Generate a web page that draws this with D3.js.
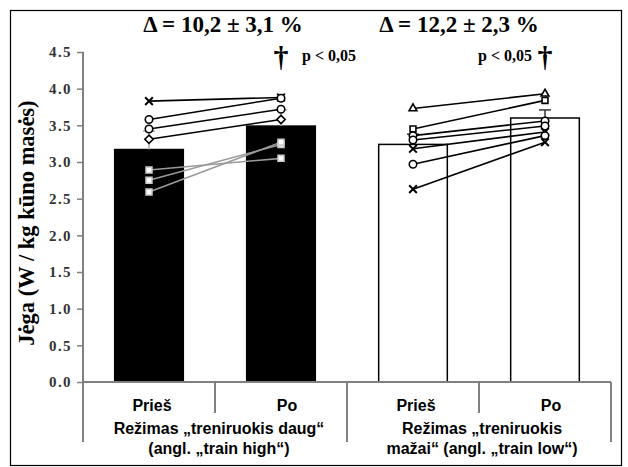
<!DOCTYPE html>
<html>
<head>
<meta charset="utf-8">
<script src="https://cdn.jsdelivr.net/npm/d3@7"></script>
<style>
  html, body { margin: 0; padding: 0; background: #fff; }
  svg { display: block; }
  .tick text { font-family: "Liberation Serif", "Times New Roman", serif; font-weight: bold; }
</style>
</head>
<body>
<svg id="chart" width="628" height="467"></svg>
<script>
// bars: Prieš / Po for each regime
var categories = ["Prieš", "Po", "Prieš", "Po"];
var groupLabels = [
  ["Režimas „treniruokis daug“", "(angl. „train high“)"],
  ["Režimas „treniruokis", "mažai“ (angl. „train low“)"]
];
var barMeans = [3.17, 3.49, 3.24, 3.60];
var barErrors = [0.25, 0.22, 0.14, 0.11];
var deltaLabels = ["Δ = 10,2 ± 3,1 %", "Δ = 12,2 ± 2,3 %"];
var pLabel = "p < 0,05";

// individual subjects (before -> after)
var highBefore = [3.83, 3.58, 3.45, 3.31, 2.89, 2.75, 2.59];
var highAfter  = [3.88, 3.87, 3.72, 3.58, 3.05, 3.24, 3.27];
var lowBefore  = [3.73, 3.45, 3.36, 3.30, 3.18, 2.97, 2.63];
var lowAfter   = [3.93, 3.84, 3.56, 3.49, 3.41, 3.36, 3.27];

var yTicks = [0, 0.5, 1, 1.5, 2, 2.5, 3, 3.5, 4, 4.5];

// styling, kept apart from the values
var highMarks = ["times", "circle", "circle", "diamond", "square", "square", "square"];
var highColors = ["#000", "#000", "#000", "#000", "#9a9a9a", "#9a9a9a", "#9a9a9a"];
var lowMarks = ["triangle", "square", "circle", "circle", "times", "circle", "times"];

var svg = d3.select("#chart");
var serif = "'Liberation Serif', 'Times New Roman', serif";
var sans = "'Liberation Sans', Arial, sans-serif";

var x = d3.scaleBand().domain(d3.range(categories.length)).range([83, 611]).paddingInner(0.48).paddingOuter(0.24);
var y = d3.scaleLinear().domain([0, 4.5]).range([382, 52]);
var step = x.step();
var left = 83, right = 611;

// outer frame
svg.append("rect")
  .attr("x", 10.5).attr("y", 10.5).attr("width", 611).attr("height", 455)
  .attr("fill", "none").attr("stroke", "#000").attr("stroke-width", 1.2);

// bars
svg.append("g").selectAll("rect")
  .data(barMeans)
  .enter().append("rect")
  .attr("x", function (d, i) { return x(i); })
  .attr("y", function (d) { return y(d); })
  .attr("width", x.bandwidth())
  .attr("height", function (d) { return y(0) - y(d); })
  .attr("fill", function (d, i) { return i < 2 ? "#000" : "#fff"; })
  .attr("stroke", "#000")
  .attr("stroke-width", 1.5);

// error bars
var err = svg.append("g").attr("stroke-width", 1.5);
barMeans.forEach(function (m, i) {
  var cx = x(i) + x.bandwidth() / 2;
  var col = i < 2 ? "#aaa" : "#333";
  err.append("line").attr("x1", cx).attr("x2", cx).attr("y1", y(m)).attr("y2", y(m + barErrors[i])).attr("stroke", col);
  err.append("line").attr("x1", cx - 6).attr("x2", cx + 6).attr("y1", y(m + barErrors[i])).attr("y2", y(m + barErrors[i])).attr("stroke", col);
});

// subject lines + markers
var symbolTypes = {
  times: d3.symbolTimes, circle: d3.symbolCircle, diamond: d3.symbolDiamond2,
  square: d3.symbolSquare2, triangle: d3.symbolTriangle2
};

function drawSubjects(before, after, i0, marks, colors) {
  var g = svg.append("g");
  var x0 = x(i0) + x.bandwidth() / 2;
  var x1 = x(i0 + 1) + x.bandwidth() / 2;
  before.forEach(function (b, k) {
    var col = colors ? colors[k] : "#000";
    g.append("line")
      .attr("x1", x0).attr("y1", y(b)).attr("x2", x1).attr("y2", y(after[k]))
      .attr("stroke", col).attr("stroke-width", 1.6);
  });
  before.forEach(function (b, k) {
    var col = colors ? colors[k] : "#000";
    var sym = d3.symbol().type(symbolTypes[marks[k]]).size(marks[k] === "times" ? 40 : 44);
    [[x0, b], [x1, after[k]]].forEach(function (p) {
      g.append("path")
        .attr("d", sym())
        .attr("transform", "translate(" + p[0] + "," + y(p[1]) + ")")
        .attr("fill", "#fff")
        .attr("stroke", col === "#000" ? "#000" : "#ccc")
        .attr("stroke-width", marks[k] === "times" ? 2 : 1.6);
    });
  });
}
drawSubjects(highBefore, highAfter, 0, highMarks, highColors);
drawSubjects(lowBefore, lowAfter, 2, lowMarks, null);

// y axis
var yAxis = svg.append("g")
  .attr("transform", "translate(" + left + ",0)")
  .call(d3.axisLeft(y).tickValues(yTicks).tickFormat(d3.format(".1f")).tickSize(6).tickPadding(5));
yAxis.select(".domain").attr("stroke", "#808080").attr("stroke-width", 2).attr("d", "M0," + y(4.5) + "V442");
yAxis.selectAll(".tick line").attr("stroke", "#808080").attr("stroke-width", 1.5);
yAxis.selectAll(".tick text").attr("fill", "#333").attr("font-size", 15).attr("letter-spacing", 1.4);

// baseline and separators under the bars
var base = svg.append("g").attr("stroke", "#808080").attr("stroke-width", 2);
base.append("line").attr("x1", left).attr("x2", right).attr("y1", y(0)).attr("y2", y(0));
[2, 4].forEach(function (i) {
  var sx = left + step * i;
  base.append("line").attr("x1", sx).attr("x2", sx).attr("y1", y(0)).attr("y2", 442);
});
[1, 3].forEach(function (i) {
  var sx = left + step * i;
  base.append("line").attr("x1", sx).attr("x2", sx).attr("y1", y(0)).attr("y2", 413);
});

// category labels
svg.append("g").selectAll("text")
  .data(categories)
  .enter().append("text")
  .attr("x", function (d, i) { return x(i) + x.bandwidth() / 2 + (d === "Po" ? 6 : 3); })
  .attr("y", 411)
  .attr("text-anchor", "middle")
  .attr("font-family", sans).attr("font-weight", "bold").attr("font-size", 16)
  .text(function (d) { return d; });

groupLabels.forEach(function (lines, gi) {
  var cx = left + step * (gi * 2 + 1) + (gi === 0 ? 4 : 3);
  lines.forEach(function (t, li) {
    svg.append("text")
      .attr("x", cx).attr("y", 434 + li * 20)
      .attr("text-anchor", "middle")
      .attr("font-family", sans).attr("font-weight", "bold").attr("font-size", 16)
      .text(t);
  });
});

// delta labels
deltaLabels.forEach(function (t, gi) {
  svg.append("text")
    .attr("x", left + step * (gi * 2 + 1) + (gi === 0 ? 8 : -20))
    .attr("y", 32)
    .attr("text-anchor", "middle")
    .attr("font-family", serif).attr("font-weight", "bold").attr("font-size", 23)
    .text(t);
});

// significance marks over the "Po" bars
[1, 3].forEach(function (i) {
  var cx = x(i) + x.bandwidth() / 2;
  svg.append("text")
    .attr("x", cx).attr("y", 67)
    .attr("text-anchor", "middle")
    .attr("font-family", serif).attr("font-weight", "bold").attr("font-size", 30)
    .text("†");
  svg.append("text")
    .attr("x", i === 1 ? cx + 21 : cx - 13)
    .attr("y", 61)
    .attr("text-anchor", i === 1 ? "start" : "end")
    .attr("font-family", serif).attr("font-weight", "bold").attr("font-size", 16)
    .text(pLabel);
});

// y axis title
svg.append("text")
  .attr("transform", "translate(34," + 223 + ") rotate(-90)")
  .attr("text-anchor", "middle")
  .attr("font-family", serif).attr("font-weight", "bold").attr("font-size", 22.5)
  .text("Jėga (W / kg kūno masės)");
</script>
</body>
</html>
